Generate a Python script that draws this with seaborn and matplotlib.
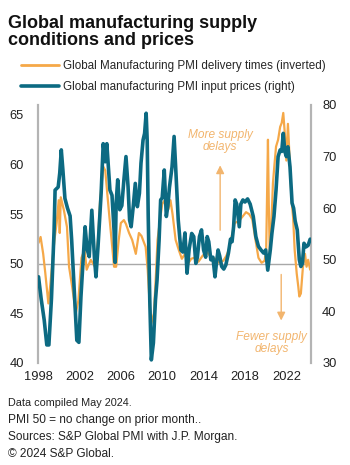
import pandas as pd
import matplotlib.pyplot as plt
import seaborn as sns
from matplotlib.lines import Line2D

# Global manufacturing PMI delivery times, inverted (left axis)
delivery_years = [1998.05, 1998.25, 1998.5, 1998.7, 1999.0, 1999.2, 1999.4, 1999.6, 1999.8, 2000.0,
                  2000.1, 2000.2, 2000.5, 2000.8, 2001.0, 2001.3, 2001.65, 2001.9, 2002.2, 2002.5,
                  2002.7, 2003.1, 2003.5, 2003.8, 2004.0, 2004.3, 2004.5, 2004.7, 2004.9, 2005.1,
                  2005.35, 2005.55, 2005.8, 2006.0, 2006.3, 2006.5, 2006.8, 2007.1, 2007.45, 2007.75,
                  2008.0, 2008.4, 2008.6, 2008.8, 2008.95, 2009.2, 2009.4, 2009.55, 2009.8, 2010.0,
                  2010.3, 2010.6, 2010.8, 2011.0, 2011.3, 2011.6, 2011.9, 2012.2, 2012.5, 2012.8,
                  2013.1, 2013.5, 2013.9, 2014.3, 2014.7, 2015.1, 2015.5, 2015.9, 2016.2, 2016.5,
                  2016.7, 2017.0, 2017.4, 2017.8, 2018.1, 2018.4, 2018.7, 2019.0, 2019.3, 2019.6,
                  2019.9, 2020.05, 2020.15, 2020.22, 2020.3, 2020.4, 2020.55, 2020.7, 2020.85, 2021.0,
                  2021.2, 2021.4, 2021.55, 2021.7, 2021.85, 2022.0, 2022.15, 2022.35, 2022.5, 2022.65,
                  2022.8, 2023.0, 2023.15, 2023.25, 2023.4, 2023.6, 2023.8, 2023.95, 2024.1, 2024.3]
delivery_vals = [52.1, 52.7, 51.0, 49.1, 46.0, 48.0, 50.4, 52.5, 54.1, 56.4,
                 53.1, 56.7, 55.4, 53.7, 49.7, 47.7, 45.0, 46.3, 50.6, 51.4,
                 49.4, 50.4, 49.7, 52.5, 56.4, 59.8, 59.4, 57.0, 54.7, 52.5,
                 49.7, 49.7, 52.4, 54.1, 54.4, 54.0, 53.1, 52.4, 51.0, 53.1,
                 52.8, 51.7, 49.4, 45.7, 44.0, 45.0, 49.0, 52.4, 54.5, 56.0,
                 56.5, 55.5, 56.4, 55.0, 52.4, 51.4, 50.5, 51.0, 50.0, 50.5,
                 50.6, 50.2, 50.8, 51.2, 50.7, 50.5, 50.1, 50.3, 50.8, 51.6,
                 52.7, 54.1, 54.3, 54.8, 55.2, 55.0, 54.5, 52.5, 50.6, 50.1,
                 50.3, 51.5, 58.0, 62.5, 56.0, 50.7, 54.0, 58.1, 60.0, 61.8,
                 62.5, 63.8, 64.2, 65.2, 63.1, 60.4, 64.1, 59.8, 56.4, 54.7,
                 51.4, 49.0, 47.7, 46.7, 47.0, 49.7, 51.0, 49.7, 50.4, 49.4]

# Global manufacturing PMI input prices (right axis)
price_years = [1998.05, 1998.3, 1998.6, 1998.85, 1999.05, 1999.3, 1999.55, 1999.65, 1999.95, 2000.1,
               2000.25, 2000.4, 2000.6, 2000.85, 2001.1, 2001.25, 2001.5, 2001.75, 2001.95, 2002.15,
               2002.4, 2002.55, 2002.75, 2002.95, 2003.2, 2003.45, 2003.6, 2003.8, 2004.1, 2004.3,
               2004.5, 2004.65, 2004.8, 2004.95, 2005.15, 2005.35, 2005.45, 2005.55, 2005.7, 2005.9,
               2006.1, 2006.3, 2006.5, 2006.7, 2006.85, 2007.0, 2007.2, 2007.4, 2007.6, 2007.8,
               2007.95, 2008.15, 2008.3, 2008.45, 2008.55, 2008.65, 2008.8, 2008.95, 2009.15, 2009.35,
               2009.5, 2009.7, 2009.85, 2010.0, 2010.2, 2010.4, 2010.55, 2010.7, 2010.95, 2011.15,
               2011.3, 2011.55, 2011.8, 2012.0, 2012.2, 2012.4, 2012.6, 2012.85, 2013.05, 2013.25,
               2013.4, 2013.6, 2013.8, 2014.0, 2014.2, 2014.35, 2014.5, 2014.7, 2014.9, 2015.1,
               2015.25, 2015.4, 2015.55, 2015.75, 2015.95, 2016.15, 2016.4, 2016.6, 2016.75, 2016.9,
               2017.05, 2017.2, 2017.45, 2017.6, 2017.8, 2018.0, 2018.25, 2018.5, 2018.8, 2019.05,
               2019.3, 2019.55, 2019.8, 2020.0, 2020.2, 2020.45, 2020.6, 2020.8, 2021.0, 2021.2,
               2021.4, 2021.55, 2021.7, 2021.85, 2022.0, 2022.15, 2022.35, 2022.55, 2022.7, 2022.85,
               2023.05, 2023.25, 2023.4, 2023.55, 2023.7, 2023.9, 2024.1, 2024.3]
price_vals = [46.7, 42.5, 38.3, 33.5, 33.5, 42.5, 55.5, 63.5, 64.1, 66.8,
              71.3, 67.5, 61.9, 60.0, 58.5, 53.9, 44.2, 34.4, 34.0, 42.9,
              51.2, 56.4, 52.0, 50.6, 59.6, 50.5, 46.7, 52.6, 62.9, 72.5,
              69.0, 72.5, 68.0, 63.5, 62.5, 55.6, 49.5, 61.0, 65.5, 59.7,
              60.5, 65.5, 70.0, 64.2, 57.7, 56.4, 60.3, 64.8, 60.3, 62.9,
              68.7, 73.2, 74.5, 78.4, 73.2, 58.4, 42.2, 30.6, 33.9, 42.2,
              46.0, 53.8, 61.6, 62.0, 67.4, 58.4, 60.5, 64.0, 68.0, 73.9,
              68.0, 57.7, 51.9, 51.5, 55.2, 47.4, 52.0, 55.1, 54.5, 49.3,
              50.5, 54.5, 55.8, 51.9, 50.5, 54.5, 53.5, 50.0, 50.5, 46.7,
              49.5, 51.9, 50.8, 48.7, 48.2, 49.0, 51.3, 54.0, 53.5, 56.4,
              61.6, 60.8, 56.4, 60.8, 61.6, 61.2, 61.8, 60.8, 58.4, 54.5,
              52.6, 51.9, 51.3, 51.9, 48.0, 52.0, 55.1, 58.4, 63.5, 70.0,
              71.3, 71.0, 74.5, 71.0, 70.0, 71.9, 68.0, 61.0, 60.0, 57.5,
              55.8, 50.0, 48.7, 49.3, 53.2, 52.5, 52.8, 54.0]

left_ticks = [40, 45, 50, 55, 60, 65]
right_ticks = [30, 40, 50, 60, 70, 80]
year_ticks = [1998, 2002, 2006, 2010, 2014, 2018, 2022]

orange = '#F5A848'
blue = '#0C6A82'
note = '#F2B56E'
grey = '#B4B4B4'

sns.set_style('white')
plt.rcParams['font.family'] = ['Liberation Sans', 'DejaVu Sans']

df_del = pd.DataFrame({'year': delivery_years, 'value': delivery_vals})
df_prc = pd.DataFrame({'year': price_years, 'value': price_vals})

fig = plt.figure(figsize=(3.5, 4.65), dpi=100)
ax = fig.add_axes([0.1086, 0.2194, 0.78, 0.5548])
ax2 = ax.twinx()

ax.axhline(50, color='#A8A8A8', lw=1, zorder=1)
sns.lineplot(data=df_del, x='year', y='value', ax=ax, color=orange, lw=1.6, zorder=3)
sns.lineplot(data=df_prc, x='year', y='value', ax=ax2, color=blue, lw=2.6, zorder=3)

ax.set_xlim(1998, 2024.38)
ax.set_ylim(40, 66)
ax2.set_ylim(30, 80)
ax.set_xticks(year_ticks)
ax.set_yticks(left_ticks)
ax2.set_yticks(right_ticks)
for a in (ax, ax2):
    a.set_xlabel('')
    a.set_ylabel('')
    a.tick_params(length=0, labelsize=9.3, colors='#222222')
    for s in ('top', 'bottom'):
        a.spines[s].set_visible(False)
    a.spines['left'].set_color(grey)
    a.spines['right'].set_color(grey)
    a.spines['left'].set_linewidth(1.5)
    a.spines['right'].set_linewidth(1.5)
ax.tick_params(axis='y', pad=10)
ax2.tick_params(axis='y', pad=8)
ax.tick_params(axis='x', pad=6)

# annotations
ax.text(2015.6, 62.4, 'More supply\ndelays', color=note, style='italic', fontsize=8.6,
        ha='center', va='center', linespacing=1.0)
ax.annotate('', xy=(2015.6, 60.2), xytext=(2015.6, 53.1),
            arrowprops=dict(arrowstyle='-|>', color=note, lw=1, mutation_scale=12))
ax.text(2020.6, 42.0, 'Fewer supply\ndelays', color=note, style='italic', fontsize=8.6,
        ha='center', va='center', linespacing=1.0)
ax.annotate('', xy=(2021.5, 44.0), xytext=(2021.5, 49.2),
            arrowprops=dict(arrowstyle='-|>', color=note, lw=1, mutation_scale=12))

# title
fig.text(0.023, 0.968, 'Global manufacturing supply\nconditions and prices', fontsize=13,
         fontweight='bold', va='top', ha='left', linespacing=1.0, color='#111111')

handles = [Line2D([], [], color=orange, lw=2),
           Line2D([], [], color=blue, lw=2.6)]
labels = ['Global Manufacturing PMI delivery times (inverted)',
          'Global manufacturing PMI input prices (right)']
fig.legend(handles, labels, loc='upper left', bbox_to_anchor=(0.043, 0.883), frameon=False,
           fontsize=8.4, handlelength=3.3, handletextpad=0.3, labelspacing=0.78, borderpad=0)

foot = ['Data compiled May 2024.', 'PMI 50 = no change on prior month..',
        'Sources: S&P Global PMI with J.P. Morgan.', '\u00a9 2024 S&P Global.']
for i, line in enumerate(foot):
    fig.text(0.023, 0.133 - i * 0.0365, line, fontsize=7.8 if i == 0 else 8.6,
             va='center', ha='left', color='#222222')

fig.savefig('out.png', dpi=100)
